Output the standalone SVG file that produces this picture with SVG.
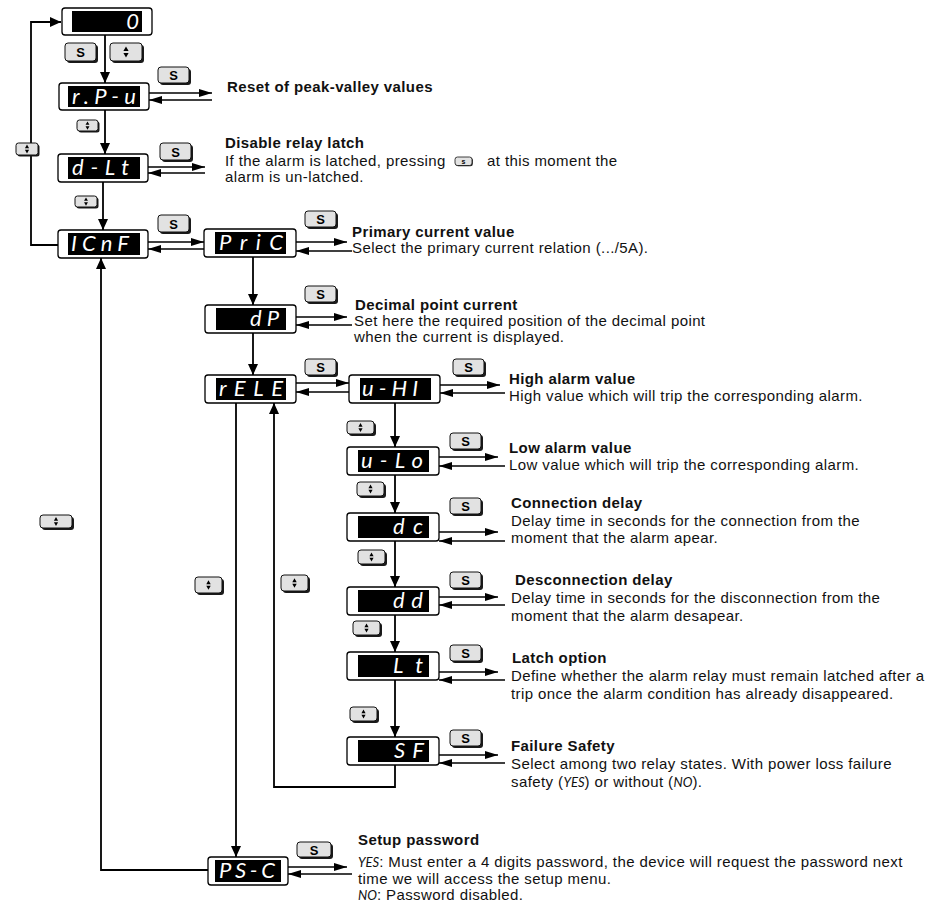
<svg xmlns="http://www.w3.org/2000/svg" xmlns:xlink="http://www.w3.org/1999/xlink" width="930" height="906" viewBox="0 0 930 906">
<style>
.box{fill:#fff;stroke:#000;stroke-width:1.3}
.scr{fill:#000}
.seg{font-family:Lato,"DejaVu Sans",sans-serif;font-style:italic;font-weight:400;font-size:22px;fill:#fff}
.ln{stroke:#000;stroke-width:1.8;fill:none}
.sl{stroke:#000;stroke-width:1.4;fill:none}
.bs{fill:#1a1a1a}
.bf{fill:#e2e2e2;stroke:#111;stroke-width:1}
.bt{font-family:"Liberation Sans",Arial,sans-serif;font-weight:bold;font-size:13px;fill:#000;text-anchor:middle}
.h{font-family:"Liberation Sans",Arial,sans-serif;font-weight:bold;font-size:15px;letter-spacing:0.4px;fill:#111}
.b{font-family:"Liberation Sans",Arial,sans-serif;font-size:15px;letter-spacing:0.4px;fill:#111}
.si{font-family:Lato,"DejaVu Sans",sans-serif;font-style:italic;font-weight:400;font-size:13px;letter-spacing:0}
</style>
<defs>
<marker id="av" markerUnits="userSpaceOnUse" markerWidth="11" markerHeight="12" refX="11" refY="5" orient="auto"><path d="M0,0 L11,5 L0,10 z" fill="#000"/></marker>
<marker id="as" markerUnits="userSpaceOnUse" markerWidth="13" markerHeight="9" refX="13" refY="4" orient="auto"><path d="M0,0 L13,4 L0,8 z" fill="#000"/></marker>
<path id="ud" d="M0,-5.5 L2.6,-1 L-2.6,-1 z M0,5.5 L2.6,1 L-2.6,1 z" fill="#000"/>
</defs>

<g id="connectors">
<path class="ln" d="M58,245 H31 V22 H61" marker-end="url(#av)"/>
<path class="ln" d="M105,35 V83" marker-end="url(#av)"/>
<path class="ln" d="M105,110 V154" marker-end="url(#av)"/>
<path class="ln" d="M103,182 V230" marker-end="url(#av)"/>
<path class="ln" d="M208,870 H101 V258" marker-end="url(#av)"/>
<path class="sl" d="M149,93 H212" marker-end="url(#as)"/>
<path class="sl" d="M212,100 H149" marker-end="url(#as)"/>
<path class="sl" d="M148,167 H205" marker-end="url(#as)"/>
<path class="sl" d="M205,173 H148" marker-end="url(#as)"/>
<path class="sl" d="M148,242 H204" marker-end="url(#as)"/>
<path class="sl" d="M204,249 H148" marker-end="url(#as)"/>
<path class="sl" d="M296,242 H347" marker-end="url(#as)"/>
<path class="sl" d="M352,251 H296" marker-end="url(#as)"/>
<path class="ln" d="M253,257 V305" marker-end="url(#av)"/>
<path class="sl" d="M296,317 H347" marker-end="url(#as)"/>
<path class="sl" d="M352,325 H296" marker-end="url(#as)"/>
<path class="ln" d="M253,333 V375" marker-end="url(#av)"/>
<path class="sl" d="M296,383 H349" marker-end="url(#as)"/>
<path class="sl" d="M349,392 H296" marker-end="url(#as)"/>
<path class="ln" d="M236,403 V857" marker-end="url(#av)"/>
<path class="ln" d="M395,765 V787 H274 V403" marker-end="url(#av)"/>
<path class="sl" d="M440,385 H500" marker-end="url(#as)"/>
<path class="sl" d="M505,393 H440" marker-end="url(#as)"/>
<path class="ln" d="M395,403 V447" marker-end="url(#av)"/>
<path class="sl" d="M439,457 H498" marker-end="url(#as)"/>
<path class="sl" d="M505,466 H439" marker-end="url(#as)"/>
<path class="ln" d="M395,475 V513" marker-end="url(#av)"/>
<path class="sl" d="M439,532 H498" marker-end="url(#as)"/>
<path class="sl" d="M505,541 H439" marker-end="url(#as)"/>
<path class="ln" d="M395,541 V587" marker-end="url(#av)"/>
<path class="sl" d="M439,597 H498" marker-end="url(#as)"/>
<path class="sl" d="M505,605 H439" marker-end="url(#as)"/>
<path class="ln" d="M395,615 V652" marker-end="url(#av)"/>
<path class="sl" d="M439,672 H498" marker-end="url(#as)"/>
<path class="sl" d="M505,680 H439" marker-end="url(#as)"/>
<path class="ln" d="M395,680 V737" marker-end="url(#av)"/>
<path class="sl" d="M439,755 H498" marker-end="url(#as)"/>
<path class="sl" d="M505,763 H439" marker-end="url(#as)"/>
<path class="sl" d="M288,867 H347" marker-end="url(#as)"/>
<path class="sl" d="M352,874 H288" marker-end="url(#as)"/>
</g>

<g id="n-zero"><rect class="box" x="62" y="8" width="90" height="27" rx="3"/><rect class="scr" x="72" y="11" width="70" height="21"/><text class="seg" x="139" y="29" text-anchor="end">0</text></g>
<g id="n-rPu"><rect class="box" x="59" y="83" width="90" height="27" rx="3"/><rect class="scr" x="68" y="86" width="72" height="21"/><text class="seg" x="72" y="104" textLength="64" lengthAdjust="spacing">r.P-u</text></g>
<g id="n-dLt"><rect class="box" x="58" y="154" width="90" height="28" rx="3"/><rect class="scr" x="68" y="157" width="72" height="22"/><text class="seg" x="72" y="175" textLength="57" lengthAdjust="spacing">d-Lt</text></g>
<g id="n-ICnF"><rect class="box" x="58" y="230" width="90" height="28" rx="3"/><rect class="scr" x="68" y="233" width="72" height="22"/><text class="seg" x="71" y="251" textLength="58" lengthAdjust="spacing">ICnF</text></g>
<g id="n-PriC"><rect class="box" x="204" y="229" width="92" height="28" rx="3"/><rect class="scr" x="215" y="232" width="71" height="22"/><text class="seg" x="219" y="250" textLength="64" lengthAdjust="spacing">PriC</text></g>
<g id="n-dP"><rect class="box" x="205" y="305" width="91" height="28" rx="3"/><rect class="scr" x="216" y="308" width="70" height="22"/><text class="seg" x="250" y="326" textLength="29" lengthAdjust="spacing">dP</text></g>
<g id="n-rELE"><rect class="box" x="205" y="375" width="91" height="28" rx="3"/><rect class="scr" x="216" y="378" width="70" height="22"/><text class="seg" x="219" y="396" textLength="64" lengthAdjust="spacing">rELE</text></g>
<g id="n-uHI"><rect class="box" x="349" y="375" width="91" height="28" rx="3"/><rect class="scr" x="360" y="378" width="71" height="22"/><text class="seg" x="362" y="396" textLength="56" lengthAdjust="spacing">u-HI</text></g>
<g id="n-uLo"><rect class="box" x="347" y="447" width="92" height="28" rx="3"/><rect class="scr" x="358" y="450" width="71" height="22"/><text class="seg" x="361" y="468" textLength="62" lengthAdjust="spacing">u-Lo</text></g>
<g id="n-dc"><rect class="box" x="347" y="513" width="92" height="28" rx="3"/><rect class="scr" x="358" y="516" width="71" height="22"/><text class="seg" x="393" y="534" textLength="30" lengthAdjust="spacing">dc</text></g>
<g id="n-dd"><rect class="box" x="347" y="587" width="92" height="28" rx="3"/><rect class="scr" x="358" y="590" width="71" height="22"/><text class="seg" x="393" y="608" textLength="30" lengthAdjust="spacing">dd</text></g>
<g id="n-Lt"><rect class="box" x="347" y="652" width="92" height="28" rx="3"/><rect class="scr" x="358" y="655" width="71" height="22"/><text class="seg" x="393" y="673" textLength="30" lengthAdjust="spacing">Lt</text></g>
<g id="n-SF"><rect class="box" x="347" y="737" width="92" height="28" rx="3"/><rect class="scr" x="358" y="740" width="71" height="22"/><text class="seg" x="394" y="758" textLength="30" lengthAdjust="spacing">SF</text></g>
<g id="n-PSC"><rect class="box" x="208" y="857" width="80" height="28" rx="3"/><rect class="scr" x="215" y="860" width="66" height="22"/><text class="seg" x="219" y="878" textLength="56" lengthAdjust="spacing">PS-C</text></g>

<g id="buttons">
<g transform="translate(65,43)"><rect class="bs" x="2" y="2" width="31" height="18" rx="3"/><rect class="bf" width="31" height="18" rx="3"/><text class="bt" x="15.5" y="14">S</text></g>
<g transform="translate(110,43)"><rect class="bs" x="2" y="2" width="32" height="18" rx="3"/><rect class="bf" width="32" height="18" rx="3"/><use href="#ud" x="16" y="9"/></g>
<g transform="translate(158,67)"><rect class="bs" x="2" y="2" width="31" height="16" rx="3"/><rect class="bf" width="31" height="16" rx="3"/><text class="bt" x="15.5" y="13">S</text></g>
<g transform="translate(77,120)"><rect class="bs" x="1.5" y="1.5" width="21" height="11" rx="2.5"/><rect class="bf" width="21" height="11" rx="2.5"/><g transform="translate(10.5,5.5) scale(0.75)"><use href="#ud"/></g></g>
<g transform="translate(16,143)"><rect class="bs" x="1.5" y="1.5" width="22" height="12" rx="2.5"/><rect class="bf" width="22" height="12" rx="2.5"/><g transform="translate(11,6) scale(0.8)"><use href="#ud"/></g></g>
<g transform="translate(160,143)"><rect class="bs" x="2" y="2" width="31" height="17" rx="3"/><rect class="bf" width="31" height="17" rx="3"/><text class="bt" x="15.5" y="13.5">S</text></g>
<g transform="translate(75,196)"><rect class="bs" x="1.5" y="1.5" width="22" height="11" rx="2.5"/><rect class="bf" width="22" height="11" rx="2.5"/><g transform="translate(11,5.5) scale(0.75)"><use href="#ud"/></g></g>
<g transform="translate(158,215)"><rect class="bs" x="2" y="2" width="31" height="17" rx="3"/><rect class="bf" width="31" height="17" rx="3"/><text class="bt" x="15.5" y="13.5">S</text></g>
<g transform="translate(305,211)"><rect class="bs" x="2" y="2" width="31" height="16" rx="3"/><rect class="bf" width="31" height="16" rx="3"/><text class="bt" x="15.5" y="13">S</text></g>
<g transform="translate(305,286)"><rect class="bs" x="2" y="2" width="31" height="16" rx="3"/><rect class="bf" width="31" height="16" rx="3"/><text class="bt" x="15.5" y="13">S</text></g>
<g transform="translate(305,359)"><rect class="bs" x="2" y="2" width="31" height="16" rx="3"/><rect class="bf" width="31" height="16" rx="3"/><text class="bt" x="15.5" y="13">S</text></g>
<g transform="translate(453,359)"><rect class="bs" x="2" y="2" width="31" height="16" rx="3"/><rect class="bf" width="31" height="16" rx="3"/><text class="bt" x="15.5" y="13">S</text></g>
<g transform="translate(347,421)"><rect class="bs" x="2" y="2" width="27" height="13" rx="3"/><rect class="bf" width="27" height="13" rx="3"/><g transform="translate(13.5,6.5) scale(0.8)"><use href="#ud"/></g></g>
<g transform="translate(450,433)"><rect class="bs" x="2" y="2" width="31" height="16" rx="3"/><rect class="bf" width="31" height="16" rx="3"/><text class="bt" x="15.5" y="13">S</text></g>
<g transform="translate(357,482)"><rect class="bs" x="2" y="2" width="27" height="14" rx="3"/><rect class="bf" width="27" height="14" rx="3"/><g transform="translate(13.5,7) scale(0.8)"><use href="#ud"/></g></g>
<g transform="translate(450,498)"><rect class="bs" x="2" y="2" width="31" height="16" rx="3"/><rect class="bf" width="31" height="16" rx="3"/><text class="bt" x="15.5" y="13">S</text></g>
<g transform="translate(358,550)"><rect class="bs" x="2" y="2" width="27" height="14" rx="3"/><rect class="bf" width="27" height="14" rx="3"/><g transform="translate(13.5,7) scale(0.8)"><use href="#ud"/></g></g>
<g transform="translate(450,572)"><rect class="bs" x="2" y="2" width="31" height="16" rx="3"/><rect class="bf" width="31" height="16" rx="3"/><text class="bt" x="15.5" y="13">S</text></g>
<g transform="translate(353,621)"><rect class="bs" x="2" y="2" width="27" height="14" rx="3"/><rect class="bf" width="27" height="14" rx="3"/><g transform="translate(13.5,7) scale(0.8)"><use href="#ud"/></g></g>
<g transform="translate(450,645)"><rect class="bs" x="2" y="2" width="31" height="16" rx="3"/><rect class="bf" width="31" height="16" rx="3"/><text class="bt" x="15.5" y="13">S</text></g>
<g transform="translate(350,707)"><rect class="bs" x="2" y="2" width="27" height="14" rx="3"/><rect class="bf" width="27" height="14" rx="3"/><g transform="translate(13.5,7) scale(0.8)"><use href="#ud"/></g></g>
<g transform="translate(450,730)"><rect class="bs" x="2" y="2" width="31" height="16" rx="3"/><rect class="bf" width="31" height="16" rx="3"/><text class="bt" x="15.5" y="13">S</text></g>
<g transform="translate(297,842)"><rect class="bs" x="2" y="2" width="34" height="15" rx="3"/><rect class="bf" width="34" height="15" rx="3"/><text class="bt" x="17" y="12.5">S</text></g>
<g transform="translate(40,515)"><rect class="bs" x="2" y="2" width="32" height="13" rx="3"/><rect class="bf" width="32" height="13" rx="3"/><g transform="translate(16,6.5) scale(0.8)"><use href="#ud"/></g></g>
<g transform="translate(195,577)"><rect class="bs" x="2" y="2" width="27" height="16" rx="3"/><rect class="bf" width="27" height="16" rx="3"/><g transform="translate(13.5,8) scale(0.85)"><use href="#ud"/></g></g>
<g transform="translate(281,575)"><rect class="bs" x="2" y="2" width="27" height="16" rx="3"/><rect class="bf" width="27" height="16" rx="3"/><g transform="translate(13.5,8) scale(0.85)"><use href="#ud"/></g></g>
</g>

<g id="labels">
<text class="h" x="227" y="92">Reset of peak-valley values</text>
<text class="h" x="225" y="148">Disable relay latch</text>
<text class="b" x="225" y="166">If the alarm is latched, pressing</text>
<g transform="translate(455,157)"><rect x="0.8" y="0.8" width="17" height="8.5" rx="2.5" fill="#222"/><rect width="17" height="8.5" rx="2.5" fill="#e2e2e2" stroke="#111" stroke-width="0.8"/><text x="8.5" y="7" font-family="Liberation Sans,Arial,sans-serif" font-size="7" font-weight="bold" text-anchor="middle">s</text></g>
<text class="b" x="487" y="166">at this moment the</text>
<text class="b" x="225" y="182">alarm is un-latched.</text>
<text class="h" x="352" y="237">Primary current value</text>
<text class="b" x="352" y="253">Select the primary current relation (.../5A).</text>
<text class="h" x="355" y="310">Decimal point current</text>
<text class="b" x="354" y="326">Set here the required position of the decimal point</text>
<text class="b" x="354" y="342">when the current is displayed.</text>
<text class="h" x="509" y="384">High alarm value</text>
<text class="b" x="509" y="401">High value which will trip the corresponding alarm.</text>
<text class="h" x="509" y="453">Low alarm value</text>
<text class="b" x="509" y="470">Low value which will trip the corresponding alarm.</text>
<text class="h" x="511" y="508">Connection delay</text>
<text class="b" x="511" y="526">Delay time in seconds for the connection from the</text>
<text class="b" x="511" y="543">moment that the alarm apear.</text>
<text class="h" x="515" y="585">Desconnection delay</text>
<text class="b" x="511" y="603">Delay time in seconds for the disconnection from the</text>
<text class="b" x="511" y="621">moment that the alarm desapear.</text>
<text class="h" x="512" y="663">Latch option</text>
<text class="b" x="511" y="681">Define whether the alarm relay must remain latched after a</text>
<text class="b" x="511" y="699">trip once the alarm condition has already disappeared.</text>
<text class="h" x="511" y="751">Failure Safety</text>
<text class="b" x="511" y="769">Select among two relay states. With power loss failure</text>
<text class="b" x="511" y="787">safety (<tspan class="si">YES</tspan>) or without (<tspan class="si">NO</tspan>).</text>
<text class="h" x="358" y="845">Setup password</text>
<text class="b" x="358" y="867"><tspan class="si">YES</tspan>: Must enter a 4 digits password, the device will request the password next</text>
<text class="b" x="358" y="884">time we will access the setup menu.</text>
<text class="b" x="358" y="900"><tspan class="si">NO</tspan>: Password disabled.</text>
</g>
</svg>
